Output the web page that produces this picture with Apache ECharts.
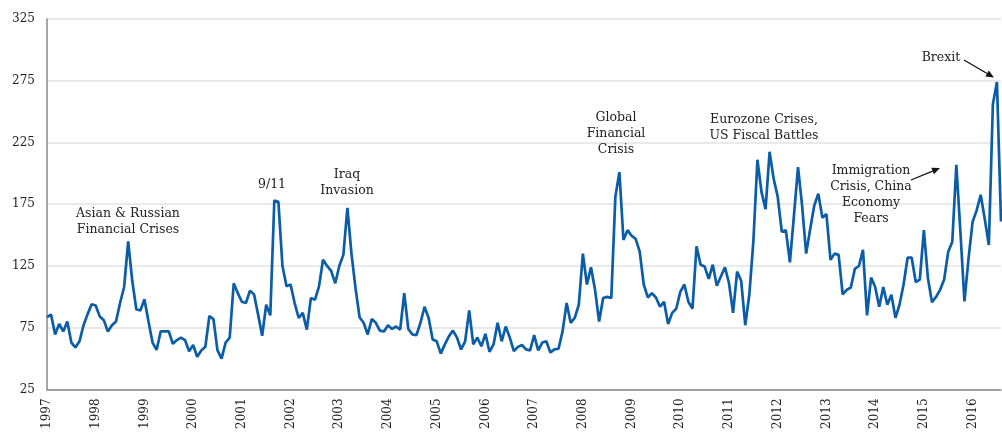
<!DOCTYPE html>
<html>
<head>
<meta charset="utf-8">
<script src="https://cdn.jsdelivr.net/npm/echarts@6/dist/echarts.min.js"></script>
<style>
html,body{margin:0;padding:0;background:#fff;}
#chart{width:1002px;height:432px;}
</style>
</head>
<body>
<div id="chart"></div>
<script>
// Monthly index, Jan 1997 - Aug 2016
const startYear = 1997;
const values1997 = [83.5, 85.6, 69.5, 78, 72, 80, 63, 59, 64, 77, 86, 94];
const values1998 = [93, 84, 81, 72, 77, 80, 95, 108, 145, 113, 90, 89];
const values1999 = [98, 80, 63, 57, 72, 72, 72, 62, 65, 67, 65, 56];
const values2000 = [61, 51.5, 56.6, 59.5, 84.5, 82, 56.6, 50, 63, 67, 111, 103];
const values2001 = [96, 95, 105, 102, 85.6, 68.5, 93.6, 85, 178, 177, 125, 108.6];
const values2002 = [110, 95, 83, 87, 73.5, 99, 97.6, 108.5, 130, 125, 121, 111];
const values2003 = [125, 134, 172, 135, 107, 83.5, 79, 69.5, 82, 79, 72.7, 72];
const values2004 = [77, 74, 76, 73.5, 103, 74, 69.5, 69, 79, 92, 83, 65.5];
const values2005 = [64, 54, 61.5, 68, 72.7, 67, 57.4, 64, 89, 61.5, 67, 60];
const values2006 = [70, 55.5, 61.5, 79, 64, 76, 67, 56, 59.5, 61, 57.5, 56.6];
const values2007 = [69, 56.6, 63, 64, 55, 57.5, 58, 72, 95, 79, 83, 93.6];
const values2008 = [135, 110, 124, 105.7, 80, 99, 100, 99, 181, 201, 146, 154];
const values2009 = [149.5, 147, 136.6, 110, 99.5, 103, 99.5, 92, 96, 78, 87, 90.4];
const values2010 = [104, 110, 96, 90.4, 141, 126, 124.5, 114.6, 126, 109, 116.5, 124];
const values2011 = [111, 87, 120.5, 113, 77, 101.7, 145, 211, 185, 171, 217.5, 195.5];
const values2012 = [181, 152.7, 154, 128, 166, 205, 174, 135, 155, 174, 183.5, 164];
const values2013 = [167, 130, 135, 134, 102, 105.7, 107.6, 122.6, 125, 138, 85, 115.6];
const values2014 = [108, 92, 108, 93.6, 101.7, 83, 93.6, 110, 131.7, 131.7, 112, 114];
const values2015 = [154, 115, 95.7, 100, 105.7, 114, 136.6, 144.6, 207, 152.7, 96.3, 131];
const values2016 = [160.7, 170, 182.6, 163, 142, 256, 274, 161];

const yTicks = [25, 75, 125, 175, 225, 275, 325];

const annotations = [
  {lines: ['Asian & Russian', 'Financial Crises'], x: 128, y: 206},
  {lines: ['9/11'], x: 272, y: 177},
  {lines: ['Iraq', 'Invasion'], x: 347, y: 167},
  {lines: ['Global', 'Financial', 'Crisis'], x: 616, y: 110},
  {lines: ['Eurozone Crises,', 'US Fiscal Battles'], x: 764, y: 112},
  {lines: ['Immigration', 'Crisis, China', 'Economy', 'Fears'], x: 871, y: 163},
  {lines: ['Brexit'], x: 941, y: 50}
];
const arrows = [
  {from: [911, 180], to: [940, 168]},
  {from: [964, 60], to: [994, 77.5]}
];

const allValues = [].concat(values1997, values1998, values1999, values2000, values2001,
  values2002, values2003, values2004, values2005, values2006, values2007, values2008,
  values2009, values2010, values2011, values2012, values2013, values2014, values2015, values2016);
const categories = allValues.map((v, i) => {
  const y = startYear + Math.floor(i / 12);
  const m = (i % 12) + 1;
  return y + '-' + (m < 10 ? '0' + m : m);
});

const FONT = '"DejaVu Serif", "Liberation Serif", serif';
const graphics = [];
annotations.forEach(a => {
  graphics.push({
    type: 'text',
    style: {
      text: a.lines.join('\n'),
      x: a.x, y: a.y,
      align: 'center', verticalAlign: 'top',
      fontFamily: FONT, fontSize: 12.5, lineHeight: 16,
      fill: '#222'
    },
    z: 100
  });
});
arrows.forEach(ar => {
  const [x1, y1] = ar.from, [x2, y2] = ar.to;
  const dx = x2 - x1, dy = y2 - y1, len = Math.hypot(dx, dy);
  const ux = dx / len, uy = dy / len;
  const hl = 8, hw = 3.5;
  const bx = x2 - ux * hl, by = y2 - uy * hl;
  graphics.push({
    type: 'line',
    shape: {x1: x1, y1: y1, x2: bx, y2: by},
    style: {stroke: '#111', lineWidth: 1.3},
    z: 100
  });
  graphics.push({
    type: 'polygon',
    shape: {points: [[x2, y2], [bx - uy * hw, by + ux * hw], [bx + uy * hw, by - ux * hw]]},
    style: {fill: '#111'},
    z: 100
  });
});

const chart = echarts.init(document.getElementById('chart'), null, {renderer: 'canvas'});
chart.setOption({
  animation: false,
  backgroundColor: '#fff',
  grid: {left: 47, right: 1, top: 19, bottom: 40, containLabel: false},
  xAxis: {
    type: 'category',
    data: categories,
    boundaryGap: false,
    axisLine: {show: true, lineStyle: {color: '#888', width: 1.5}},
    axisTick: {show: false},
    splitLine: {show: false},
    axisLabel: {
      interval: function (idx) { return idx % 12 === 0; },
      rotate: 90,
      margin: 9,
      formatter: function (v) { return v.slice(0, 4); },
      fontFamily: FONT, fontSize: 12, color: '#222'
    }
  },
  yAxis: {
    type: 'value',
    min: yTicks[0],
    max: yTicks[yTicks.length - 1],
    interval: yTicks[1] - yTicks[0],
    axisLine: {show: true, lineStyle: {color: '#888', width: 1.5}},
    axisTick: {show: false},
    splitLine: {show: true, lineStyle: {color: '#e3e3e3', width: 1.5}},
    axisLabel: {margin: 12, fontFamily: FONT, fontSize: 12, color: '#222'}
  },
  series: [{
    type: 'line',
    data: allValues,
    showSymbol: false,
    symbol: 'none',
    lineStyle: {color: '#0a5da6', width: 2.7},
    itemStyle: {color: '#0a5da6'}
  }],
  graphic: graphics
});
</script>
</body>
</html>
